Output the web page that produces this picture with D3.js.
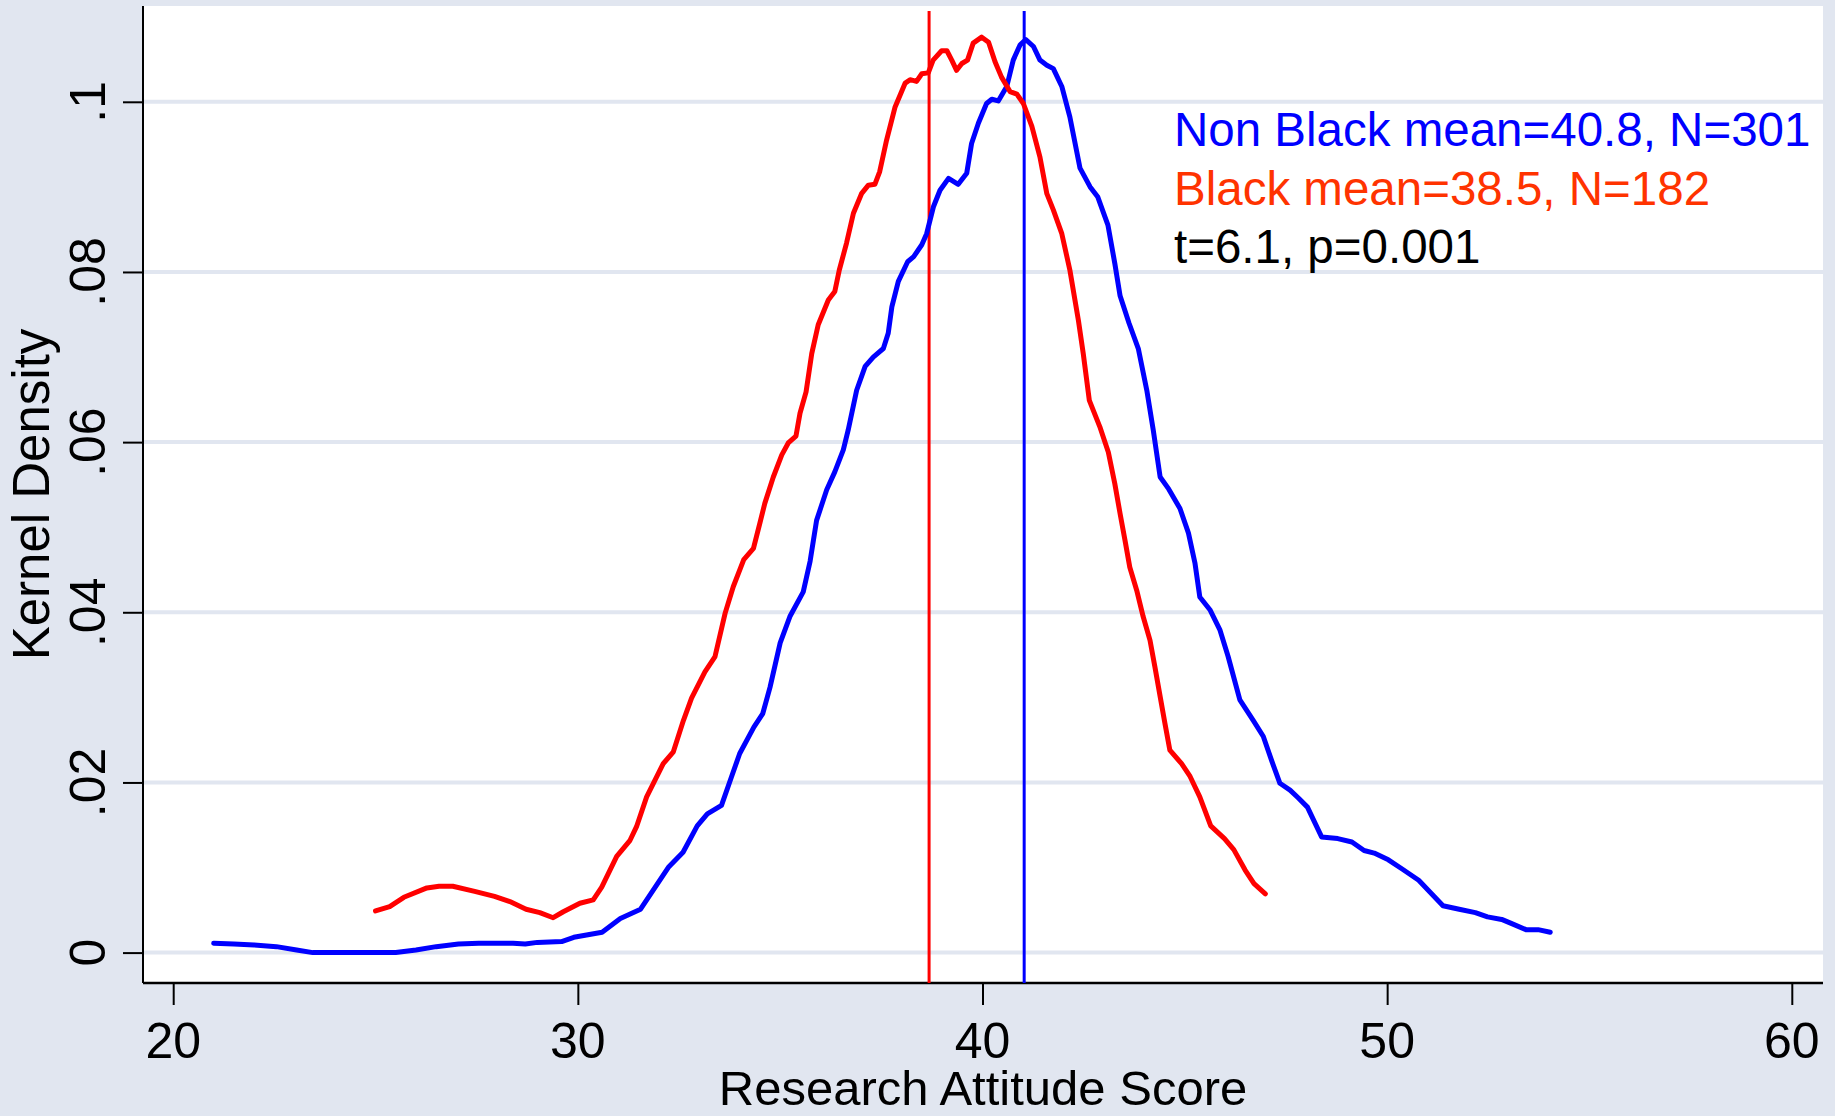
<!DOCTYPE html>
<html>
<head>
<meta charset="utf-8">
<script src="https://cdn.jsdelivr.net/npm/d3@7"></script>
<style>
  body { margin: 0; background: #e1e6f0; }
  text { font-family: "Liberation Sans", Arial, sans-serif; }
</style>
</head>
<body>
<div id="chart"></div>
<script>

// kernel density, Non Black group: [score, density]
var nonBlack = [
  [21.0, .0011], [21.5, .0010], [22.0, .0009], [22.55, .0007], [23.05, .0003], [23.45, 0],
  [25.5, 0], [26.0, .0003], [26.5, .0007], [27.05, .0010], [27.55, .0011], [28.4, .0011],
  [28.7, .0010], [29.0, .0012], [29.6, .0013], [29.9, .0018], [30.25, .0021], [30.6, .0024],
  [31.05, .0040], [31.55, .0051], [31.9, .0076], [32.25, .0101], [32.6, .0118], [32.95, .0149],
  [33.2, .0163], [33.55, .0173], [33.8, .0207], [34.0, .0234], [34.35, .0265], [34.57, .0281],
  [34.75, .0312], [35.0, .0364], [35.24, .0395], [35.57, .0424], [35.74, .0460], [35.9, .0508],
  [36.15, .0544], [36.35, .0565], [36.56, .0591], [36.68, .0614], [36.89, .0661], [37.1, .0689],
  [37.3, .0700], [37.55, .0710], [37.67, .0728], [37.76, .0759], [37.92, .0789], [38.15, .0812],
  [38.3, .0818], [38.5, .0832], [38.62, .0845], [38.79, .0877], [38.95, .0896], [39.16, .0910],
  [39.4, .0903], [39.61, .0916], [39.73, .0951], [39.9, .0975], [40.1, .0998], [40.23, .1003],
  [40.39, .1001], [40.6, .1018], [40.76, .1049], [40.93, .1067], [41.07, .1073], [41.26, .1065],
  [41.42, .1049], [41.59, .1043], [41.75, .1039], [41.96, .1018], [42.16, .0982], [42.41, .0922],
  [42.66, .0900], [42.85, .0888], [43.1, .0855], [43.27, .0810], [43.4, .0772], [43.62, .0740],
  [43.85, .0710], [44.06, .0661], [44.22, .0614], [44.39, .0559], [44.6, .0545], [44.88, .0522],
  [45.09, .0493], [45.25, .0458], [45.37, .0418], [45.62, .0403], [45.87, .0379], [46.07, .0348],
  [46.36, .0297], [46.69, .0273], [46.94, .0254], [47.15, .0225], [47.35, .0199], [47.6, .0191],
  [47.8, .0182], [48.03, .0171], [48.38, .0136], [48.78, .0134], [49.13, .0130], [49.43, .0120],
  [49.68, .0117], [50.03, .0109], [50.38, .0098], [50.78, .0085], [51.08, .0070], [51.38, .0055],
  [51.78, .0051], [52.18, .0047], [52.48, .0042], [52.83, .0039], [53.08, .0034], [53.43, .0027],
  [53.73, .0027], [54.03, .0024]
];

// kernel density, Black group
var black = [
  [25.0, .0049], [25.35, .0054], [25.7, .0065], [26.27, .0076], [26.57, .0078], [26.91, .0078],
  [27.45, .0072], [27.94, .0066], [28.32, .0060], [28.72, .0051], [29.06, .0047], [29.39, .0041],
  [29.64, .0048], [30.05, .0058], [30.38, .0062], [30.59, .0077], [30.96, .0113], [31.29, .0132],
  [31.45, .0148], [31.7, .0183], [32.11, .0222], [32.36, .0236], [32.61, .0273], [32.81, .0299],
  [33.14, .0330], [33.39, .0348], [33.64, .0399], [33.84, .0430], [34.1, .0462], [34.34, .0475],
  [34.5, .0505], [34.62, .0528], [34.83, .0559], [35.04, .0585], [35.2, .0599], [35.39, .0607],
  [35.49, .0634], [35.64, .0659], [35.78, .0704], [35.94, .0738], [36.19, .0767], [36.35, .0777],
  [36.46, .0802], [36.64, .0834], [36.81, .0869], [37.01, .0892], [37.18, .0902], [37.34, .0903],
  [37.46, .0918], [37.63, .0955], [37.84, .0994], [38.09, .1022], [38.21, .1026], [38.37, .1024],
  [38.5, .1033], [38.66, .1034], [38.78, .1049], [38.99, .1060], [39.12, .1060], [39.24, .1049],
  [39.36, .1037], [39.49, .1045], [39.63, .1049], [39.77, .1069], [39.98, .1076], [40.15, .1070],
  [40.31, .1047], [40.47, .1029], [40.68, .1012], [40.85, .1009], [41.01, .0998], [41.22, .0971],
  [41.42, .0935], [41.59, .0892], [41.75, .0873], [41.96, .0845], [42.16, .0802], [42.37, .0743],
  [42.49, .0704], [42.64, .0649], [42.9, .0618], [43.11, .0588], [43.27, .0551], [43.4, .0516],
  [43.52, .0485], [43.64, .0453], [43.81, .0426], [43.97, .0395], [44.14, .0367], [44.26, .0336],
  [44.39, .0301], [44.51, .0269], [44.63, .0238], [44.92, .0222], [45.13, .0207], [45.37, .0183],
  [45.64, .0149], [45.98, .0134], [46.21, .0121], [46.49, .0097], [46.71, .0081], [46.99, .0069]
];

// reference lines drawn by the original
var refLines = [
  {x: 38.68, color: "#ff0000"},
  {x: 41.03, color: "#0000ff"}
];

var xTicks = [20, 30, 40, 50, 60];
var yTicks = [0, .02, .04, .06, .08, .1];
var yTickLabels = ["0", ".02", ".04", ".06", ".08", ".1"];

var legendLines = [
  {text: "Non Black mean=40.8, N=301", color: "#0000ff"},
  {text: "Black mean=38.5, N=182", color: "#ff3300"},
  {text: "t=6.1, p=0.001", color: "#000000"}
];

function drawChart() {
	var fullWidth = 1835, fullHeight = 1116;
	var plotLeft = 143, plotRight = 1823, plotTop = 6, plotBottom = 983;

	var svg = d3.select("#chart")
				.append("svg")
				.attr("width", fullWidth)
				.attr("height", fullHeight);

	// background and plot region
	svg.append("rect").attr("width", fullWidth).attr("height", fullHeight).attr("fill", "#e1e6f0");
	svg.append("rect").attr("x", plotLeft).attr("y", plotTop)
		.attr("width", plotRight - plotLeft).attr("height", plotBottom - plotTop)
		.attr("fill", "white");

	var xScale = d3.scaleLinear().domain([20, 60]).range([173.2, 1791.8]);
	var yScale = d3.scaleLinear().domain([0, 0.1]).range([952.6, 101.8]);

	// gridlines
	svg.append("g").selectAll("line")
		.data(yTicks)
		.enter().append("line")
		.attr("x1", plotLeft).attr("x2", plotRight)
		.attr("y1", function(d) { return yScale(d); })
		.attr("y2", function(d) { return yScale(d); })
		.attr("stroke", "#e1e6f0")
		.attr("stroke-width", 4);

	// y axis
	var yAxis = svg.append("g")
		.attr("transform", "translate(" + plotLeft + ",0)")
		.call(d3.axisLeft(yScale).tickValues(yTicks).tickSize(20).tickFormat(""));
	yAxis.select(".domain").attr("d", "M0," + plotTop + "V" + plotBottom).attr("stroke-width", 2);
	yAxis.selectAll(".tick line").attr("stroke-width", 2);

	svg.append("g").selectAll("text")
		.data(yTicks)
		.enter().append("text")
		.attr("transform", function(d) { return "translate(105," + yScale(d) + ") rotate(-90)"; })
		.attr("text-anchor", "middle")
		.attr("font-size", 50)
		.text(function(d, i) { return yTickLabels[i]; });

	// x axis
	var xAxis = svg.append("g")
		.attr("transform", "translate(0," + plotBottom + ")")
		.call(d3.axisBottom(xScale).tickValues(xTicks).tickSize(22).tickFormat(""));
	xAxis.select(".domain").attr("d", "M" + plotLeft + ",0H" + plotRight).attr("stroke-width", 2.5);
	xAxis.selectAll(".tick line").attr("stroke-width", 2);

	svg.append("g").selectAll("text")
		.data(xTicks)
		.enter().append("text")
		.attr("x", function(d) { return xScale(d); })
		.attr("y", 1058)
		.attr("text-anchor", "middle")
		.attr("font-size", 50)
		.text(function(d) { return d; });

	// axis titles
	svg.append("text")
		.attr("x", (plotLeft + plotRight) / 2).attr("y", 1105)
		.attr("text-anchor", "middle").attr("font-size", 49)
		.text("Research Attitude Score");
	svg.append("text")
		.attr("transform", "translate(49," + (plotTop + plotBottom) / 2 + ") rotate(-90)")
		.attr("text-anchor", "middle").attr("font-size", 51)
		.text("Kernel Density");

	// reference lines
	svg.append("g").selectAll("line")
		.data(refLines)
		.enter().append("line")
		.attr("x1", function(d) { return xScale(d.x); })
		.attr("x2", function(d) { return xScale(d.x); })
		.attr("y1", 11).attr("y2", plotBottom)
		.attr("stroke", function(d) { return d.color; })
		.attr("stroke-width", 3);

	// density curves
	var line = d3.line()
		.x(function(d) { return xScale(d[0]); })
		.y(function(d) { return yScale(d[1]); });

	var curves = [{data: nonBlack, color: "#0000ff"}, {data: black, color: "#ff0000"}];
	svg.append("g").selectAll("path")
		.data(curves)
		.enter().append("path")
		.attr("d", function(d) { return line(d.data); })
		.attr("fill", "none")
		.attr("stroke", function(d) { return d.color; })
		.attr("stroke-width", 5)
		.attr("stroke-linejoin", "round")
		.attr("stroke-linecap", "round");

	// legend text
	svg.append("g").selectAll("text")
		.data(legendLines)
		.enter().append("text")
		.attr("x", 1174)
		.attr("y", function(d, i) { return 146 + i * 58.5; })
		.attr("font-size", 47.5)
		.attr("fill", function(d) { return d.color; })
		.text(function(d) { return d.text; });
}

drawChart();
</script>
</body>
</html>
